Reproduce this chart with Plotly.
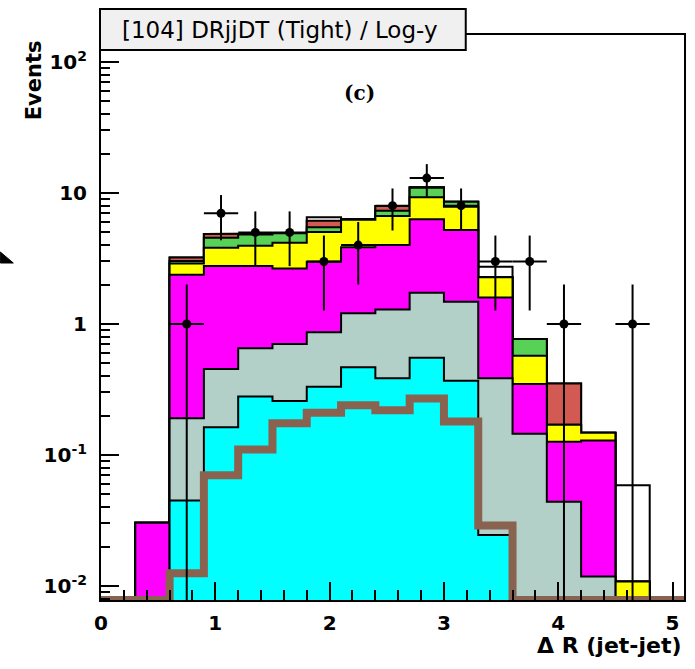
import numpy as np
import plotly.graph_objects as go

# Binning: 17 bins of width 0.3 between 0 and 5.1
bin_edges = np.round(np.linspace(0.0, 5.1, 18), 3)
bin_centers = 0.5 * (bin_edges[:-1] + bin_edges[1:])

# Stacked components, listed bottom to top
comp_cyan = [0, 0, 0.045, 0.163, 0.279, 0.258, 0.332, 0.467, 0.385, 0.553, 0.369, 0.0245, 0, 0, 0, 0, 0]
comp_grey = [0, 0, 0.146, 0.290, 0.373, 0.446, 0.532, 0.743, 0.905, 1.177, 1.111, 0.3605, 0.145, 0.044, 0.0118, 0, 0]
comp_magenta = [0, 0.0304, 2.19, 2.317, 2.118, 1.946, 2.126, 2.64, 2.72, 4.57, 3.74, 1.205, 0.203, 0.082, 0.117, 0, 0]
comp_yellow = [0, 0, 0.51, 1.05, 1.19, 1.52, 2.05, 2.40, 2.66, 2.97, 2.64, 0.68, 0.225, 0.044, 0.019, 0.0108, 0]
comp_green = [0, 0, 0.14, 0.74, 0.85, 0.75, 0.43, 0.05, 0.66, 1.69, 0.72, 0, 0.195, 0, 0, 0, 0]
comp_red = [0, 0, 0.18, 0.30, 0.05, 0, 0.68, 0, 0.63, 0.10, 0, 0, 0, 0.182, 0, 0, 0]
comp_white = [0, 0, 0, 0, 0, 0, 0.37, 0, 0, 0, 0, 0.47, 0, 0, 0, 0.048, 0]

# Overlaid signal curve (not stacked)
signal = [0, 0, 0.0125, 0.070, 0.110, 0.175, 0.21, 0.24, 0.22, 0.27, 0.18, 0.029, 0, 0, 0, 0, 0]

# Observed counts
data_counts = [0, 0, 1, 7, 5, 5, 3, 4, 8, 13, 8, 3, 3, 1, 0, 1, 0]

# Axis tick labels
y_tick_vals = [0.01, 0.1, 1, 10, 100]
y_tick_text = ["10<sup>-2</sup>", "10<sup>-1</sup>", "1", "10", "10<sup>2</sup>"]
x_tick_vals = [0, 1, 2, 3, 4, 5]

LOG_Y_RANGE = [-2.107, 2.206]
Y_FLOOR = 10 ** LOG_Y_RANGE[0]

stack = [
    (comp_cyan, "#00ffff"),
    (comp_grey, "#b2cfc8"),
    (comp_magenta, "#ff00ff"),
    (comp_yellow, "#ffff00"),
    (comp_green, "#58d256"),
    (comp_red, "#d25a52"),
    (comp_white, "#ffffff"),
]


def step_outline(values, floor):
    xs, ys = [bin_edges[0]], [floor]
    for i, v in enumerate(values):
        level = v if v > 0 else floor
        xs += [bin_edges[i], bin_edges[i + 1]]
        ys += [level, level]
    xs.append(bin_edges[-1])
    ys.append(floor)
    return xs, ys


fig = go.Figure()

# Cumulative sums; draw the tallest first so lower layers paint over it
cumulative = np.cumsum(np.array([c for c, _ in stack], dtype=float), axis=0)
for level, (_, color) in reversed(list(zip(cumulative, stack))):
    xs, ys = step_outline(level, Y_FLOOR)
    fig.add_trace(go.Scatter(
        x=xs, y=ys, mode="lines", fill="toself", fillcolor=color,
        line=dict(color="black", width=2), hoverinfo="skip", showlegend=False,
    ))

# Signal as a thick step line
sx, sy = step_outline(signal, Y_FLOOR)
fig.add_trace(go.Scatter(
    x=sx[1:-1], y=sy[1:-1], mode="lines",
    line=dict(color="#8a6350", width=8), hoverinfo="skip", showlegend=False,
))

# Data points with sqrt(N) errors
counts = np.array(data_counts, dtype=float)
mask = counts > 0
fig.add_trace(go.Scatter(
    x=bin_centers[mask], y=counts[mask], mode="markers",
    marker=dict(color="black", size=9),
    error_y=dict(type="data", array=np.sqrt(counts[mask]), symmetric=True,
                 color="black", thickness=2, width=0),
    error_x=dict(type="constant", value=0.15, color="black", thickness=2, width=0),
    showlegend=False,
))

W, H = 695, 669
L, R, T, B = 101, 686, 35, 600


def px_x(p):
    return (p - L) / (R - L)


def px_y(p):
    return (B - p) / (B - T)


minor_y = [m * 10.0 ** k for k in range(-3, 3) for m in range(2, 10)]

fig.update_layout(
    width=W, height=H,
    margin=dict(l=L, r=W - R, t=T, b=H - B),
    paper_bgcolor="white", plot_bgcolor="white",
    font=dict(family="DejaVu Sans", color="black"),
    xaxis=dict(
        range=[0, 5.1], tickmode="array", tickvals=x_tick_vals,
        ticks="inside", ticklen=18, tickwidth=1.5, tickcolor="black",
        minor=dict(tickmode="linear", tick0=0, dtick=0.2, ticks="inside",
                   ticklen=10, tickwidth=1.5, tickcolor="black"),
        showline=True, linecolor="black", linewidth=2, mirror=True,
        showgrid=False, zeroline=False,
        tickfont=dict(family="DejaVu Sans", size=20, weight="bold"),
        ticklabelstandoff=4,
    ),
    yaxis=dict(
        type="log", range=LOG_Y_RANGE, tickmode="array",
        tickvals=y_tick_vals, ticktext=y_tick_text,
        ticks="inside", ticklen=18, tickwidth=1.5, tickcolor="black",
        minor=dict(tickmode="array", tickvals=minor_y, ticks="inside",
                   ticklen=9, tickwidth=1.5, tickcolor="black"),
        showline=True, linecolor="black", linewidth=2, mirror=True,
        showgrid=False, zeroline=False,
        tickfont=dict(family="DejaVu Sans", size=20, weight="bold"),
        ticklabelstandoff=8,
    ),
    shapes=[
        dict(type="rect", xref="paper", yref="paper",
             x0=px_x(100), x1=px_x(467), y0=px_y(50), y1=px_y(9),
             fillcolor="#f0f0f0", line=dict(color="black", width=2), layer="above"),
        dict(type="path", xref="paper", yref="paper",
             path=f"M {px_x(0)},{px_y(252)} L {px_x(13)},{px_y(263)} L {px_x(0)},{px_y(263)} Z",
             fillcolor="black", line=dict(color="black", width=1)),
    ],
    annotations=[
        dict(text="[104] DRjjDT (Tight) / Log-y", xref="paper", yref="paper",
             x=px_x(281), y=px_y(29.5), xanchor="center", yanchor="middle",
             showarrow=False, font=dict(family="DejaVu Sans", size=23)),
        dict(text="(c)", xref="paper", yref="paper",
             x=px_x(360), y=px_y(93), xanchor="center", yanchor="middle",
             showarrow=False, font=dict(family="DejaVu Serif", size=20, weight="bold")),
        dict(text="Events", xref="paper", yref="paper", textangle=-90,
             x=px_x(34), y=px_y(38), xanchor="center", yanchor="top",
             showarrow=False, font=dict(family="DejaVu Sans", size=21, weight="bold")),
        dict(text="Δ R (jet-jet)", xref="paper", yref="paper",
             x=px_x(685), y=px_y(645), xanchor="right", yanchor="middle",
             showarrow=False, font=dict(family="DejaVu Sans", size=22, weight="bold")),
    ],
)

fig.write_html("out.html")
